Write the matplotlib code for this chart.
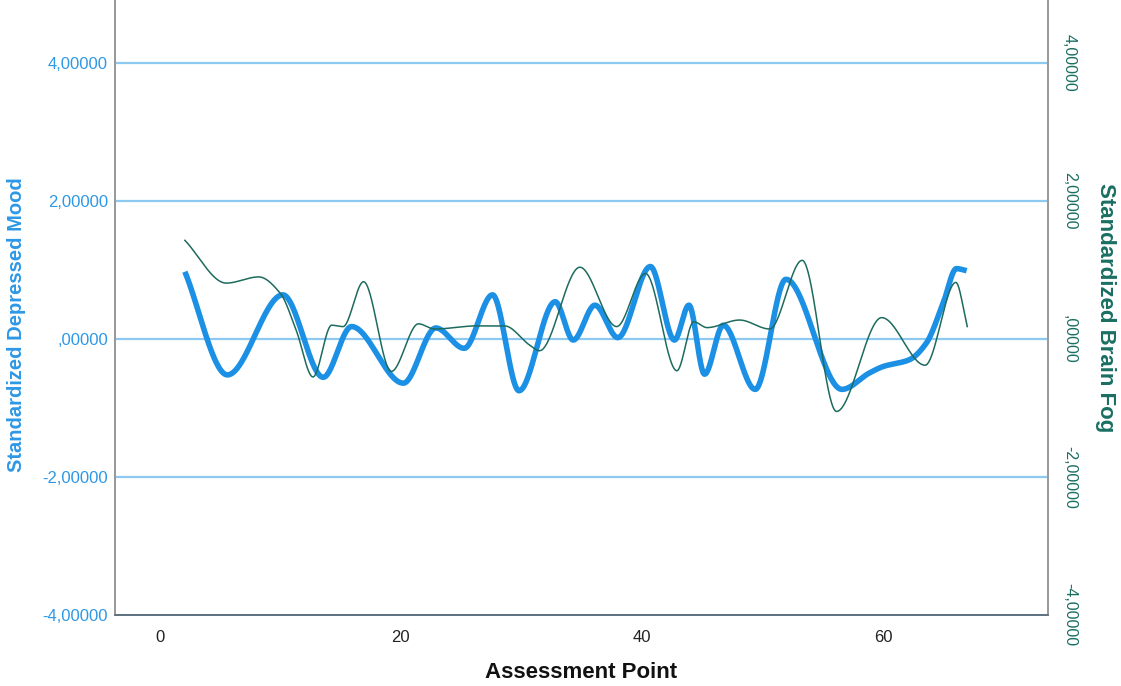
import numpy as np
import matplotlib.pyplot as plt
from matplotlib.ticker import FuncFormatter

plt.rcParams['font.family'] = ['Liberation Sans', 'DejaVu Sans']

# Standardized Depressed Mood (left axis), points read at the turning points of the curve
mood_x = [2.07, 5.6, 10.2, 13.55, 15.9, 20.2, 22.9, 25.25, 27.6, 29.8, 32.8, 34.3,
          36.1, 38.0, 40.7, 42.7, 43.9, 45.2, 46.75, 49.4, 51.95, 56.6, 58.9,
          60.0, 62.2, 63.6, 65.0, 66.1, 66.95]
mood_y = [0.975, -0.52, 0.64, -0.555, 0.18, -0.64, 0.16, -0.135, 0.64, -0.75, 0.54, -0.015,
          0.49, 0.02, 1.05, -0.015, 0.49, -0.51, 0.2, -0.73, 0.865, -0.73, -0.49,
          -0.40, -0.30, -0.06, 0.52, 1.02, 0.99]

# Standardized Brain Fog (right axis)
fog_x = [2.07, 5.5, 8.2, 10.0, 11.3, 12.7, 14.25, 15.2, 16.9, 19.2, 21.45, 22.8,
         26.3, 28.6, 30.7, 31.5, 34.85, 37.9, 40.3, 42.9, 44.3, 45.4, 48.1, 50.6,
         53.3, 56.15, 59.9, 63.5, 66.05, 67.0]
fog_y = [1.43, 0.81, 0.90, 0.66, 0.13, -0.55, 0.2, 0.18, 0.83, -0.47, 0.22, 0.145,
         0.19, 0.19, -0.09, -0.17, 1.04, 0.18, 0.95, -0.46, 0.25, 0.165, 0.275, 0.145,
         1.14, -1.05, 0.31, -0.38, 0.82, 0.18]

y_ticks = [-4, -2, 0, 2, 4]
x_ticks = [0, 20, 40, 60]


def pchip(x, y, xs):
    # monotone cubic curve through the read points (SPSS draws a smooth line)
    x = np.asarray(x, float)
    y = np.asarray(y, float)
    h = np.diff(x)
    d = np.diff(y) / h
    m = np.zeros_like(y)
    for k in range(1, len(x) - 1):
        if d[k - 1] * d[k] > 0:
            w1 = 2 * h[k] + h[k - 1]
            w2 = h[k] + 2 * h[k - 1]
            m[k] = (w1 + w2) / (w1 / d[k - 1] + w2 / d[k])
    m[0] = d[0]
    m[-1] = d[-1]
    idx = np.clip(np.searchsorted(x, xs) - 1, 0, len(x) - 2)
    t = (xs - x[idx]) / h[idx]
    h00 = 2 * t**3 - 3 * t**2 + 1
    h10 = t**3 - 2 * t**2 + t
    h01 = -2 * t**3 + 3 * t**2
    h11 = t**3 - t**2
    return h00 * y[idx] + h10 * h[idx] * m[idx] + h01 * y[idx + 1] + h11 * h[idx] * m[idx + 1]


def comma_fmt(v, pos):
    s = f"{v:.5f}".replace('.', ',')
    if s.startswith('0,'):
        s = s[1:]
    elif s.startswith('-0,'):
        s = '-' + s[2:]
    return s


blue = '#1B90E4'
teal = '#1D6B5E'
label_blue = '#2D98E6'
label_teal = '#1A6E62'

fig = plt.figure(figsize=(11.21, 6.86), dpi=100)
ax = fig.add_axes([115 / 1121, 71 / 686, (1048 - 115) / 1121, 615 / 686])
ax2 = ax.twinx()

xs1 = np.linspace(mood_x[0], mood_x[-1], 1500)
xs2 = np.linspace(fog_x[0], fog_x[-1], 1500)

for yv in [-2, 0, 2, 4]:
    ax.axhline(yv, color='#8DC9F1', lw=1.6, zorder=1)

ax.plot(xs1, pchip(mood_x, mood_y, xs1), color=blue, lw=4.0, solid_capstyle='butt', zorder=3)
ax2.plot(xs2, pchip(fog_x, fog_y, xs2), color=teal, lw=1.1, zorder=4)

ax.set_xlim(-3.73, 73.7)
ax.set_ylim(-4, 4.913)
ax2.set_ylim(-4, 4.913)

ax.set_xticks(x_ticks)
ax.set_yticks(y_ticks)
ax2.set_yticks(y_ticks)
ax.yaxis.set_major_formatter(FuncFormatter(comma_fmt))
ax2.yaxis.set_major_formatter(FuncFormatter(comma_fmt))

ax.tick_params(axis='x', length=0, pad=11, labelsize=12, labelcolor='#222222')
ax.tick_params(axis='y', length=0, pad=5, labelsize=12, labelcolor=label_blue)
ax2.tick_params(axis='y', length=0, pad=10, labelsize=11.5, labelcolor=label_teal,
                labelrotation=-90)
for lab in ax2.get_yticklabels():
    lab.set_va('center')

for a in (ax, ax2):
    a.spines['top'].set_visible(False)
    a.spines['left'].set_color('#9a9a9a')
    a.spines['right'].set_color('#9a9a9a')
    a.spines['bottom'].set_color('#5f7282')
    for s in ('left', 'right', 'bottom'):
        a.spines[s].set_linewidth(1.3)

ax.set_xlabel('Assessment Point', fontsize=16, fontweight='bold', color='#111111', labelpad=12)
ax.set_ylabel('Standardized Depressed Mood', fontsize=14.5, fontweight='bold', color=label_blue)
ax.yaxis.set_label_coords(-0.095, 0.4715)
ax2.set_ylabel('Standardized Brain Fog', fontsize=16, fontweight='bold', color=label_teal,
               rotation=-90, labelpad=28)

fig.savefig('out.png', dpi=100)
